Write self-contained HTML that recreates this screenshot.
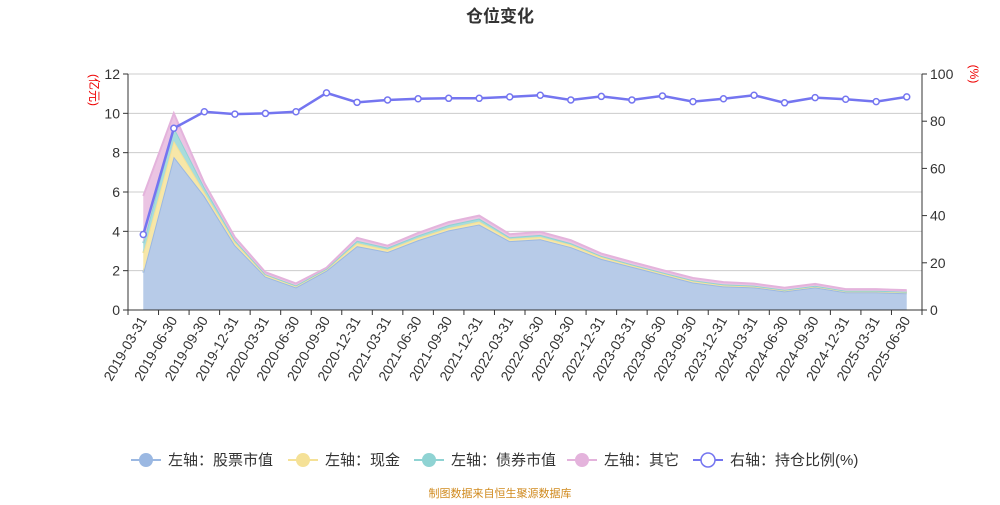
<!DOCTYPE html>
<html><head><meta charset="utf-8"><style>
body{margin:0;background:#fff;font-family:"Liberation Sans","Noto Sans CJK SC",sans-serif}
svg text{font-family:"Liberation Sans","Noto Sans CJK SC",sans-serif}
</style></head><body>
<svg id="c" width="1000" height="500" xmlns="http://www.w3.org/2000/svg">
<text x="500" y="22" text-anchor="middle" font-size="17" font-weight="bold" fill="#333">仓位变化</text>
<text x="90" y="90" font-size="12" fill="#e00" text-anchor="middle" transform="rotate(90 90 90)">(亿元)</text>
<text x="970" y="74" font-size="12" fill="#e00" text-anchor="middle" transform="rotate(90 970 74)">(%)</text>
<g id="grid"></g><g id="areas"></g><g id="axes"></g><g id="line"></g>
<g id="legend" font-size="15" fill="#333"></g>
<text x="500" y="497" text-anchor="middle" font-size="11" fill="#d08a1e">制图数据来自恒生聚源数据库</text>
</svg>
<script>
const categories=["2019-03-31","2019-06-30","2019-09-30","2019-12-31","2020-03-31","2020-06-30","2020-09-30","2020-12-31","2021-03-31","2021-06-30","2021-09-30","2021-12-31","2022-03-31","2022-06-30","2022-09-30","2022-12-31","2023-03-31","2023-06-30","2023-09-30","2023-12-31","2024-03-31","2024-06-30","2024-09-30","2024-12-31","2025-03-31","2025-06-30"];
const stock=[1.9,7.8,5.8,3.3,1.7,1.15,2.0,3.25,2.95,3.55,4.05,4.35,3.5,3.6,3.2,2.6,2.2,1.8,1.4,1.2,1.15,0.95,1.15,0.9,0.9,0.85];
const cash=[1.0,0.8,0.2,0.15,0.1,0.08,0.08,0.15,0.12,0.12,0.12,0.15,0.12,0.12,0.12,0.1,0.08,0.08,0.08,0.07,0.06,0.06,0.06,0.06,0.06,0.06];
const bond=[0.5,0.7,0.25,0.1,0.02,0.02,0.02,0.12,0.1,0.12,0.15,0.15,0.08,0.1,0.08,0.05,0.04,0.03,0.03,0.03,0.03,0.02,0.02,0.02,0.02,0.02];
const other=[2.4,0.7,0.2,0.15,0.1,0.1,0.05,0.15,0.1,0.13,0.15,0.15,0.15,0.15,0.15,0.12,0.12,0.12,0.12,0.12,0.1,0.1,0.1,0.08,0.08,0.08];
const ratio=[32,77,84,83,83.3,84,92,88,89,89.5,89.7,89.7,90.3,91,89,90.5,89,90.7,88.3,89.5,91,87.8,90,89.3,88.3,90.3];
const leftTicks=[0,2,4,6,8,10,12];
const rightTicks=[0,20,40,60,80,100];
const L=128,R=922,T=74,B=310,NS="http://www.w3.org/2000/svg";
const bw=(R-L)/categories.length;
const xs=i=>L+bw*(i+0.5);
const yl=v=>B-(v/12)*(B-T);
const yr=v=>B-(v/100)*(B-T);
function mk(tag,attrs,parent){const e=document.createElementNS(NS,tag);for(const k in attrs)e.setAttribute(k,attrs[k]);document.getElementById(parent).appendChild(e);return e;}
leftTicks.forEach((t,i)=>{
 if(t>0){const g=mk('line',{x1:L,x2:R,y1:yl(t),y2:yl(t),stroke:'#ccc'},'grid');
 
 }
 const tx=mk('text',{x:L-8,y:yl(t)+5,'text-anchor':'end','font-size':14,fill:'#333'},'axes');tx.textContent=t;
 
 
 mk('line',{x1:L-5,x2:L,y1:yl(t),y2:yl(t),stroke:'#333'},'axes');
});
rightTicks.forEach(t=>{
 const tx=mk('text',{x:R+8,y:yr(t)+5,'font-size':14,fill:'#333'},'axes');tx.textContent=t;
 
 
 mk('line',{x1:R,x2:R+5,y1:yr(t),y2:yr(t),stroke:'#333'},'axes');
});
mk('line',{x1:L,x2:L,y1:T,y2:B,stroke:'#333'},'axes');
mk('line',{x1:R,x2:R,y1:T,y2:B,stroke:'#333'},'axes');
mk('line',{x1:L,x2:R,y1:B,y2:B,stroke:'#333'},'axes');
categories.forEach((c,i)=>{
 mk('line',{x1:L+bw*i,x2:L+bw*i,y1:B,y2:B+5,stroke:'#333'},'axes');
 const x=xs(i)+4,y=B+10;
 const tx=mk('text',{x:x,y:y,'text-anchor':'end','font-size':14,fill:'#333',transform:`rotate(-60 ${x} ${y})`},'axes');tx.textContent=c;
 
 
});
mk('line',{x1:R,x2:R,y1:B,y2:B+5,stroke:'#333'},'axes');
const series=[[stock,'#b7cbe8','#9bb8e2','stock-area'],[cash,'#f7e7a8','#f5e197','cash-area'],[bond,'#a8dcdc','#8fd3d3','bond-area'],[other,'#ebc4e3','#e4b3dc','other-area']];
let base=categories.map(()=>0);
series.forEach(([d,fill,stroke,name])=>{
 const top=d.map((v,i)=>base[i]+v);
 const up=top.map((v,i)=>`${xs(i)},${yl(v)}`);
 const down=base.map((v,i)=>`${xs(i)},${yl(v)}`).reverse();
 const p=mk('polygon',{points:up.concat(down).join(' '),fill:fill},'areas');
 
 
 mk('polyline',{points:up.join(' '),fill:'none',stroke:stroke,'stroke-width':2},'areas');
 base=top;
});
const pl=mk('polyline',{points:ratio.map((v,i)=>`${xs(i)},${yr(v)}`).join(' '),fill:'none',stroke:'#7475f0','stroke-width':2.5},'line');


ratio.forEach((v,i)=>{const c=mk('circle',{cx:xs(i),cy:yr(v),r:3,fill:'#fff',stroke:'#7475f0','stroke-width':1.5},'line');
 
 });
const leg=[['左轴：股票市值','#9bb8e2',true,131],['左轴：现金','#f5e197',true,288],['左轴：债券市值','#8fd3d3',true,414],['左轴：其它','#e4b3dc',true,567],['右轴：持仓比例(%)','#7475f0',false,693]];
leg.forEach(([t,col,fill,x])=>{
 const y=460;
 mk('line',{x1:x,x2:x+30,y1:y,y2:y,stroke:col,'stroke-width':2},'legend');
 const c=mk('circle',{cx:x+15,cy:y,r:7,fill:fill?col:'#fff',stroke:col,'stroke-width':fill?0:1.5},'legend');
 
 
 const tx=mk('text',{x:x+37,y:y+5,'font-size':15,fill:'#333'},'legend');tx.textContent=t;
 
 
});
</script>
</body></html>
